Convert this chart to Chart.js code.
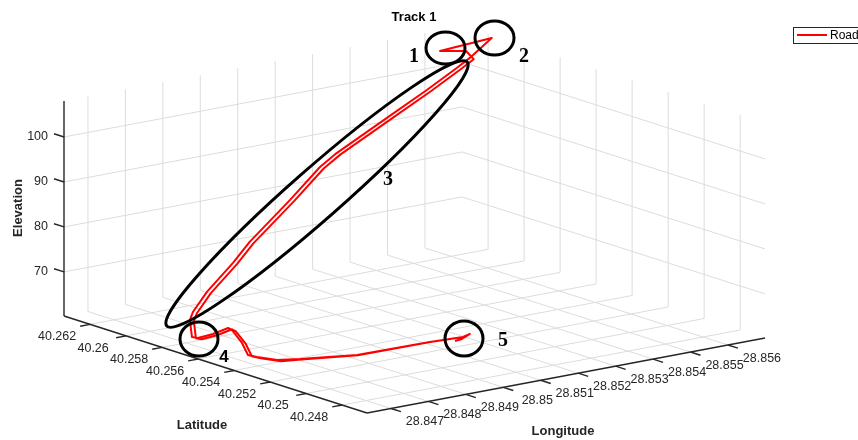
<!DOCTYPE html>
<html>
<head>
<meta charset="utf-8">
<title>Track 1</title>
<script src="https://cdn.jsdelivr.net/npm/chart.js@4/dist/chart.umd.min.js"></script>
<style>
  html, body { margin: 0; padding: 0; background: #ffffff; }
  #wrap { width: 858px; height: 440px; position: relative; }
</style>
</head>
<body>
<div id="wrap"><canvas id="chart" width="858" height="440"></canvas></div>
<script>
// GPS track: longitude, latitude (degrees) and elevation (m), in driving order
const trackLon = [
  28.85162, 28.85184, 28.85224, 28.85191, 28.85101, 28.84899, 28.84773, 28.84724,
  28.84702, 28.84695, 28.84745, 28.84794, 28.84797, 28.84738, 28.84689, 28.84684,
  28.84677, 28.84687, 28.84734, 28.84821, 28.84877, 28.85012, 28.85112, 28.85168,
  28.85336, 28.85469, 28.85569, 28.85613, 28.85686,
  28.85559, 28.85603,
  28.85613, 28.85569, 28.85469, 28.85336, 28.85168, 28.85112, 28.85012, 28.84877,
  28.84821, 28.84734, 28.84687, 28.84677, 28.84684,
  28.84689, 28.84738, 28.84797, 28.84794, 28.84745, 28.84695, 28.84702, 28.84724,
  28.84773, 28.84899, 28.85101, 28.85191
];
const trackLat = [
  40.25267, 40.25275, 40.25313, 40.25283, 40.25280, 40.25264, 40.25319, 40.25344,
  40.25411, 40.25446, 40.25583, 40.25741, 40.25768, 40.25729, 40.25712, 40.25734,
  40.25731, 40.25735, 40.25755, 40.25791, 40.25815, 40.25871, 40.25913, 40.25937,
  40.26007, 40.26062, 40.26104, 40.26123, 40.26153,
  40.26176, 40.26123,
  40.26101, 40.26082, 40.26040, 40.25985, 40.25915, 40.25891, 40.25849, 40.25793,
  40.25769, 40.25733, 40.25713, 40.25709, 40.25712,
  40.25690, 40.25707, 40.25746, 40.25719, 40.25561, 40.25424, 40.25389, 40.25322,
  40.25311, 40.25260, 40.25278, 40.25281
];
const trackElev = [
  60.2, 60.2, 60.2, 60.44, 60.77, 61.25, 61.63, 61.87,
  62.02, 62.11, 62.26, 62.35, 62.40, 62.49, 62.59, 62.6,
  66.5, 68.1, 71.6, 76.2, 79.7, 86.2, 91.4, 93.3,
  97.6, 101.0, 103.8, 105.1, 108.0,
  106.8, 106.8,
  105.1, 103.8, 101.0, 97.6, 93.3, 91.4, 86.2, 79.7,
  76.2, 71.6, 68.1, 66.5, 62.6,
  62.59, 62.49, 62.40, 62.35, 62.26, 62.11, 62.02, 61.87,
  61.63, 61.25, 60.77, 60.44
];

// Axis limits and ticks
const lonLimits = [28.84636, 28.85699];
const latLimits = [40.24662, 40.26345];
const elevLimits = [60.2, 108];
const lonTicks = [28.847, 28.848, 28.849, 28.85, 28.851, 28.852, 28.853, 28.854, 28.855, 28.856];
const latTicks = [40.248, 40.25, 40.252, 40.254, 40.256, 40.258, 40.26, 40.262];
const elevTicks = [70, 80, 90, 100];

// Numbered callouts along the route
const calloutLabels = ['1', '2', '3', '4', '5'];

// Oblique view of the 3-D box onto the drawing plane (plane units = px)
const VIEW = {
  ox: 367, oy: 413,          // corner at (lonMin, latMin, elevMin)
  lon: [398, -75],           // full longitude span
  lat: [-303, -97],          // full latitude span
  elev: [0, -215]            // full elevation span
};

function project(lon, lat, elev) {
  const u = (lon - lonLimits[0]) / (lonLimits[1] - lonLimits[0]);
  const v = (lat - latLimits[0]) / (latLimits[1] - latLimits[0]);
  const w = (elev - elevLimits[0]) / (elevLimits[1] - elevLimits[0]);
  return {
    x: VIEW.ox + u * VIEW.lon[0] + v * VIEW.lat[0] + w * VIEW.elev[0],
    y: VIEW.oy + u * VIEW.lon[1] + v * VIEW.lat[1] + w * VIEW.elev[1]
  };
}

const [lon0, lon1] = lonLimits, [lat0, lat1] = latLimits, [z0, z1] = elevLimits;
const lonSpan = lon1 - lon0, latSpan = lat1 - lat0;

// Grid on the floor and the two back walls
const gridSegs = [];
lonTicks.forEach(lo => {
  gridSegs.push([project(lo, lat0, z0), project(lo, lat1, z0)]);
  gridSegs.push([project(lo, lat1, z0), project(lo, lat1, z1)]);
});
latTicks.forEach(la => {
  gridSegs.push([project(lon0, la, z0), project(lon1, la, z0)]);
  gridSegs.push([project(lon1, la, z0), project(lon1, la, z1)]);
});
elevTicks.forEach(z => {
  gridSegs.push([project(lon0, lat1, z), project(lon1, lat1, z)]);
  gridSegs.push([project(lon1, lat0, z), project(lon1, lat1, z)]);
});

// Axis lines and tick marks
const axisSegs = [
  [project(lon0, lat1, z0), project(lon0, lat1, z1)],
  [project(lon0, lat0, z0), project(lon0, lat1, z0)],
  [project(lon0, lat0, z0), project(lon1, lat0, z0)]
];
latTicks.forEach(la => axisSegs.push([project(lon0, la, z0), project(lon0 - 0.025 * lonSpan, la, z0)]));
lonTicks.forEach(lo => axisSegs.push([project(lo, lat0, z0), project(lo, lat0 - 0.033 * latSpan, z0)]));
elevTicks.forEach(z => axisSegs.push([project(lon0, lat1, z), project(lon0, lat1 + 0.033 * latSpan, z)]));

const datasets = [{
  label: 'Road',
  data: trackLon.map((lo, i) => project(lo, trackLat[i], trackElev[i])),
  showLine: true, borderColor: '#ff0000', backgroundColor: '#ff0000',
  borderWidth: 2, pointRadius: 0, tension: 0, borderJoinStyle: 'round', order: 0
}];
axisSegs.forEach(s => datasets.push({
  label: '', data: s, showLine: true, borderColor: '#262626',
  borderWidth: 1.4, pointRadius: 0, order: 1
}));
gridSegs.forEach(s => datasets.push({
  label: '', data: s, showLine: true, borderColor: '#dcdcdc',
  borderWidth: 1, pointRadius: 0, order: 2
}));

// Callout shapes (plane units)
const CALLOUTS = [
  { cx: 445.5, cy: 48, rx: 19.5, ry: 16, rot: 0, tx: 414, ty: 57, font: 'bold 20px "Liberation Serif"' },
  { cx: 494.5, cy: 38, rx: 19.5, ry: 17, rot: 0, tx: 524, ty: 57, font: 'bold 20px "Liberation Serif"' },
  { cx: 317, cy: 194, rx: 200, ry: 25, rot: -41.3, tx: 388, ty: 180, font: 'bold 20px "Liberation Serif"' },
  { cx: 199, cy: 339, rx: 19, ry: 17, rot: 0, tx: 224, ty: 357, font: 'bold 17px "Liberation Sans"' },
  { cx: 464, cy: 338.5, rx: 19, ry: 17.5, rot: 0, tx: 503, ty: 341, font: 'bold 20px "Liberation Serif"' }
];

const decorations = {
  id: 'decorations',
  afterDatasetsDraw(chart) {
    const { ctx, scales: { x, y } } = chart;
    const px = v => x.getPixelForValue(v), py = v => y.getPixelForValue(v);
    ctx.save();

    // callout ellipses and numbers
    ctx.strokeStyle = '#000000';
    ctx.lineWidth = 3;
    CALLOUTS.forEach((c, i) => {
      ctx.beginPath();
      ctx.ellipse(px(c.cx), py(c.cy), c.rx, c.ry, c.rot * Math.PI / 180, 0, 2 * Math.PI);
      ctx.stroke();
      ctx.fillStyle = '#000000';
      ctx.font = c.font;
      ctx.textAlign = 'center';
      ctx.textBaseline = 'middle';
      ctx.fillText(calloutLabels[i], px(c.tx), py(c.ty));
    });

    // tick labels
    ctx.fillStyle = '#262626';
    ctx.font = '12.5px "Liberation Sans", Arial, sans-serif';
    ctx.textBaseline = 'middle';
    ctx.textAlign = 'center';
    latTicks.forEach(la => {
      const p = project(lon0, la, z0);
      ctx.fillText(String(la), px(p.x - 33), py(p.y + 12.5));
    });
    lonTicks.forEach(lo => {
      const p = project(lo, lat0, z0);
      ctx.fillText(String(lo), px(p.x + 34), py(p.y + 13.5));
    });
    ctx.textAlign = 'right';
    elevTicks.forEach(z => {
      const p = project(lon0, lat1, z);
      ctx.fillText(String(z), px(p.x - 16), py(p.y));
    });

    // axis titles
    ctx.font = 'bold 13px "Liberation Sans", Arial, sans-serif';
    ctx.textAlign = 'center';
    ctx.fillText('Latitude', px(202), py(425));
    ctx.fillText('Longitude', px(563), py(431));
    ctx.save();
    ctx.translate(px(18), py(208));
    ctx.rotate(-Math.PI / 2);
    ctx.fillText('Elevation', 0, 0);
    ctx.restore();

    // title
    ctx.fillStyle = '#000000';
    ctx.font = 'bold 13px "Liberation Sans", Arial, sans-serif';
    ctx.fillText('Track 1', px(414), py(17));

    // legend
    const ds = chart.data.datasets[0];
    ctx.fillStyle = '#ffffff';
    ctx.fillRect(793.5, 27.5, 80, 16);
    ctx.strokeStyle = '#262626';
    ctx.lineWidth = 1;
    ctx.strokeRect(793.5, 27.5, 80, 16);
    ctx.strokeStyle = ds.borderColor;
    ctx.lineWidth = 2;
    ctx.beginPath();
    ctx.moveTo(797, 35);
    ctx.lineTo(827, 35);
    ctx.stroke();
    ctx.fillStyle = '#000000';
    ctx.font = '12px "Liberation Sans", Arial, sans-serif';
    ctx.textAlign = 'left';
    ctx.fillText(ds.label, 830, 35.5);

    ctx.restore();
  }
};

new Chart(document.getElementById('chart'), {
  type: 'scatter',
  data: { datasets },
  options: {
    responsive: false,
    animation: false,
    events: [],
    layout: { padding: 0 },
    scales: {
      x: { type: 'linear', display: false, min: 0, max: 858 },
      y: { type: 'linear', display: false, min: 0, max: 440, reverse: true }
    },
    plugins: { legend: { display: false }, tooltip: { enabled: false }, title: { display: false } }
  },
  plugins: [decorations]
});
</script>
</body>
</html>
